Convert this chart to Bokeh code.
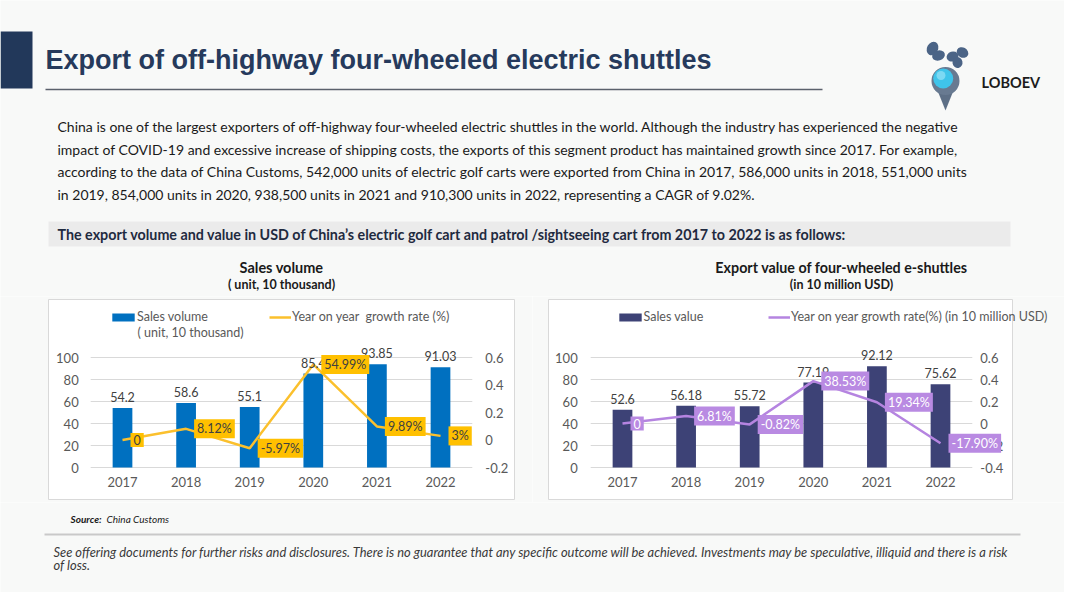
from bokeh.plotting import figure
from bokeh.layouts import column, row
from bokeh.models import (Range1d, LinearAxis, FixedTicker, ColumnDataSource, Text,
                          LabelSet, Legend, LegendItem, Label, CustomJSTickFormatter)
from bokeh.core.properties import value
from bokeh.embed import file_html
from bokeh.resources import INLINE

# ---------------- data ----------------
years = ["2017", "2018", "2019", "2020", "2021", "2022"]
sales_volume = [54.2, 58.6, 55.1, 85.4, 93.85, 91.03]
volume_growth = [0.0, 0.0812, -0.0597, 0.5499, 0.0989, 0.03]
volume_growth_labels = ["0", "8.12%", "-5.97%", "54.99%", "9.89%", "3%"]
sales_value = [52.6, 56.18, 55.72, 77.19, 92.12, 75.62]
value_growth = [0.0, 0.0681, -0.0082, 0.3853, 0.1934, -0.179]
value_growth_labels = ["0", "6.81%", "-0.82%", "38.53%", "19.34%", "-17.90%"]
bar_ticks = [0, 20, 40, 60, 80, 100]
volume_rate_ticks = [-0.2, 0, 0.2, 0.4, 0.6]
value_rate_ticks = [-0.4, -0.2, 0, 0.2, 0.4, 0.6]

title_text = "Export of off-highway four-wheeled electric shuttles"
paragraph_lines = [
    "China is one of the largest exporters of off-highway four-wheeled electric shuttles in the world. Although the industry has experienced the negative",
    "impact of COVID-19 and excessive increase of shipping costs, the exports of this segment product has maintained growth since 2017. For example,",
    "according to the data of China Customs, 542,000 units of electric golf carts were exported from China in 2017, 586,000 units in 2018, 551,000 units",
    "in 2019, 854,000 units in 2020, 938,500 units in 2021 and 910,300 units in 2022, representing a CAGR of 9.02%.",
]
subtitle_text = "The export volume and value in USD of China\u2019s electric golf cart and patrol /sightseeing cart from 2017 to 2022 is as follows:"
disclaimer_lines = [
    "See offering documents for further risks and disclosures. There is no guarantee that any specific outcome will be achieved. Investments may be speculative, illiquid and there is a risk",
    "of loss.",
]

BG = "#f8f9f8"
FONT = "Lato"
AXIS_COLOR = "#595959"
W = 1064
TOP_H = 296          # page y 0..296
ROW_TOP, ROW_BOTTOM = 296, 502
BOTTOM_END = 592


def blank(width, height, x0, x1, y0, y1):
    p = figure(width=width, height=height, x_range=Range1d(x0, x1), y_range=Range1d(y0, y1),
               output_backend="svg", toolbar_location=None, min_border=0,
               x_axis_location=None, y_axis_location=None,
               background_fill_color=BG, border_fill_color=BG, outline_line_color=None)
    p.grid.visible = False
    return p


def txt(p, x, y, s, size, color="#1a1a1a", style="normal", align="left", font=FONT, baseline="middle"):
    p.text(x=[x], y=[y], text=[s], text_font=value(font), text_font_size=value(size),
           text_font_style=style, text_color=color, text_align=align, text_baseline=baseline)


# ---------------- top panel ----------------
top = blank(W, TOP_H, 0, W, TOP_H, 0)
top.quad(left=[0], right=[32], top=[31], bottom=[88], fill_color="#22385a", line_color=None)
txt(top, 45, 59, title_text, "27px", color="#263a5c", style="bold", font="Liberation Sans")
top.line([45, 822], [89, 89], line_color="#5b616c", line_width=1.5)

# logo
LOGO_DARK = "#4b6486"
top.ellipse(x=[932, 938], y=[48, 55], width=[11, 13], height=[14, 10], angle=[-0.5, 0.3],
            fill_color=LOGO_DARK, line_color=None)
top.ellipse(x=[952, 962, 957], y=[56, 52, 62], width=[12, 12, 10], height=[10, 10, 11], angle=[0.3, -0.5, 0.2],
            fill_color=LOGO_DARK, line_color=None)
top.patch(x=[937, 953, 945], y=[90, 90, 110], fill_color="#5d6f86", line_color=None)
top.circle(x=[945], y=[80.5], radius=14, fill_color="#687a91", line_color=None)
top.circle(x=[942.7], y=[78], radius=10, fill_color="#3fc4ea", line_color=None)
top.circle(x=[940.5], y=[75], radius=4.5, fill_color="#a6e8f8", fill_alpha=0.6, line_color=None)
txt(top, 981, 82, "LOBOEV", "14.5px", color="#1c1c1c", style="bold")

for i, line in enumerate(paragraph_lines):
    txt(top, 57, [126, 149, 171, 194][i], line, "14px", color="#1a1a1a")

top.quad(left=[48], right=[1010], top=[221], bottom=[246], fill_color="#ebebeb", line_color=None)
txt(top, 57, 234, subtitle_text, "14.3px", color="#1f2a40", style="bold")

txt(top, 281, 267, "Sales volume", "14.5px", style="bold", align="center")
txt(top, 281, 284, "( unit, 10 thousand)", "12.5px", style="bold", align="center")
txt(top, 841, 267, "Export value of four-wheeled e-shuttles", "14.3px", style="bold", align="center")
txt(top, 841, 284, "(in 10 million USD)", "12.5px", style="bold", align="center")


# ---------------- charts ----------------
ZERO_PY = 467          # page y of value 0 on the bar axis
PX_PER_UNIT = 1.1      # px per bar unit
X_STEP = 63.6          # px per category

rate_fmt = CustomJSTickFormatter(code="return Math.abs(tick) < 1e-9 ? '0' : tick.toFixed(1);")
idx = list(range(len(years)))
TEXT_HAS_BOX = all(k in Text.properties() for k in ("padding", "background_fill_color"))


def chart(fig_left, fig_right, cat0_px, box, vals, bar_color, rates, rate_labels,
          rate_lo, rate_hi, rate_ticks, line_color, lab_fill, lab_text, bar_label, line_label,
          leg_bar, leg_line, left_standoff, right_standoff, extra_label=None):
    def xd(px):
        return (px - cat0_px) / X_STEP

    def yd(py):
        return (ZERO_PY - py) / PX_PER_UNIT

    def rd(py):
        return rate_lo + (rate_hi - rate_lo) * yd(py) / 100.0

    p = figure(width=fig_right - fig_left, height=ROW_BOTTOM - ROW_TOP,
               x_range=Range1d(xd(fig_left), xd(fig_right)),
               y_range=Range1d(yd(ROW_BOTTOM), yd(ROW_TOP)),
               output_backend="svg", toolbar_location=None, min_border=0,
               x_axis_location=None, y_axis_location=None,
               background_fill_color=BG, border_fill_color=BG, outline_line_color=None)
    p.extra_y_ranges = {"rate": Range1d(rd(ROW_BOTTOM), rd(ROW_TOP))}
    p.grid.visible = False

    # chart box
    bl, bt, br, bb = box
    p.quad(left=[xd(bl)], right=[xd(br)], top=[yd(bt)], bottom=[yd(bb)],
           fill_color="white", line_color="#d9d9d9", line_width=1)
    # horizontal gridlines over the plot area
    n = len(bar_ticks)
    p.segment(x0=[-0.5] * n, x1=[len(years) - 0.5] * n, y0=bar_ticks, y1=bar_ticks,
              line_color="#d9d9d9", line_width=1)

    # axes drawn at fixed data locations
    xax = LinearAxis(ticker=FixedTicker(ticks=idx),
                     major_label_overrides={i: y for i, y in zip(idx, years)},
                     fixed_location=0)
    yl = LinearAxis(ticker=FixedTicker(ticks=bar_ticks), fixed_location=-0.5)
    yr = LinearAxis(y_range_name="rate", ticker=FixedTicker(ticks=rate_ticks),
                    formatter=rate_fmt, fixed_location=len(years) - 0.5)
    p.add_layout(xax, "below")
    p.add_layout(yl, "left")
    p.add_layout(yr, "right")
    for ax in (xax, yl, yr):
        ax.axis_line_color = None
        ax.major_tick_line_color = None
        ax.minor_tick_line_color = None
        ax.major_tick_in = 0
        ax.major_tick_out = 0
        ax.major_label_text_font = FONT
        ax.major_label_text_font_size = "13px"
        ax.major_label_text_color = AXIS_COLOR
    xax.major_label_standoff = 9
    yl.major_label_standoff = left_standoff
    yr.major_label_standoff = right_standoff

    src = ColumnDataSource(dict(x=idx, top=vals, text=[str(v) for v in vals],
                                rate=rates, rate_text=rate_labels))
    bars = p.vbar(x="x", top="top", width=0.31, source=src, fill_color=bar_color, line_color=None)
    ln = p.line(x="x", y="rate", source=src, y_range_name="rate", line_color=line_color, line_width=2.5)

    p.add_layout(LabelSet(x="x", y="top", text="text", source=src, y_offset=6,
                          text_align="center", text_baseline="bottom",
                          text_font=value(FONT), text_font_size=value("12.5px"), text_color="#404040"))
    if TEXT_HAS_BOX:
        p.text(x="x", y="rate", text="rate_text", source=src, y_range_name="rate",
               x_offset=8, text_align="left", text_baseline="middle",
               text_font=value(FONT), text_font_size=value("12.5px"), text_color=lab_text,
               background_fill_color=lab_fill, background_fill_alpha=1.0, padding=(3, 2),
               level="overlay")
    else:
        p.add_layout(LabelSet(x="x", y="rate", text="rate_text", source=src, y_range_name="rate",
                              x_offset=6, text_align="left", text_baseline="middle",
                              text_font=value(FONT), text_font_size=value("12.5px"), text_color=lab_text,
                              background_fill_color=lab_fill, background_fill_alpha=1.0,
                              level="overlay"))

    def legend(item, renderer, pos, gw, gh, standoff):
        lg = Legend(items=[LegendItem(label=item, renderers=[renderer])],
                    location=(pos[0] - fig_left, ROW_BOTTOM - (pos[1] + 8)),
                    orientation="horizontal", padding=0, margin=0, spacing=0,
                    glyph_width=gw, glyph_height=gh, label_standoff=standoff, label_height=16,
                    label_text_font=FONT, label_text_font_size="12.5px", label_text_color=AXIS_COLOR,
                    background_fill_alpha=0, border_line_color=None)
        p.add_layout(lg)

    legend(bar_label, bars, leg_bar, 28, 10, 0)
    legend(line_label, ln, leg_line, 22, 10, 1)
    if extra_label is not None:
        p.add_layout(Label(x=extra_label[1] - fig_left, y=ROW_BOTTOM - extra_label[2],
                           x_units="screen", y_units="screen", text=extra_label[0],
                           text_font=FONT, text_font_size="12.5px", text_color=AXIS_COLOR,
                           text_baseline="middle"))
    return p


left = chart(0, 532, 122, (48, 299, 514, 499), sales_volume, "#0070c0",
             volume_growth, volume_growth_labels, -0.2, 0.6, volume_rate_ticks,
             "#fbc02d", "#ffc000", "#404040",
             "Sales volume", "Year on year  growth rate (%)",
             (109, 316.5), (269, 316.5), 12, 13,
             extra_label=("( unit, 10 thousand)", 137, 331.5))

right = chart(532, W, 622, (548, 299, 1012, 499), sales_value, "#3d4276",
              value_growth, value_growth_labels, -0.4, 0.6, value_rate_ticks,
              "#b584e0", "#b98ae2", "#ffffff",
              "Sales value", "Year on year growth rate(%) (in 10 million USD)",
              (615.5, 316.5), (768, 316.5), 13, 8)

# ---------------- bottom panel ----------------
bottom = blank(W, BOTTOM_END - ROW_BOTTOM, 0, W, BOTTOM_END, ROW_BOTTOM)
txt(bottom, 70, 518, "Source:", "10px", color="#1a1a1a", style="bold italic")
txt(bottom, 106, 518, "China Customs", "10px", color="#1a1a1a", style="italic")
bottom.line([44, 1020], [534, 534], line_color="#c9c9c9", line_width=2)
for i, line in enumerate(disclaimer_lines):
    txt(bottom, 53, [551, 564][i], line, "12.9px", color="#3a3a3a", style="italic")

page = column(top, row(left, right), bottom)
open("out.html", "w").write(file_html(page, INLINE))
